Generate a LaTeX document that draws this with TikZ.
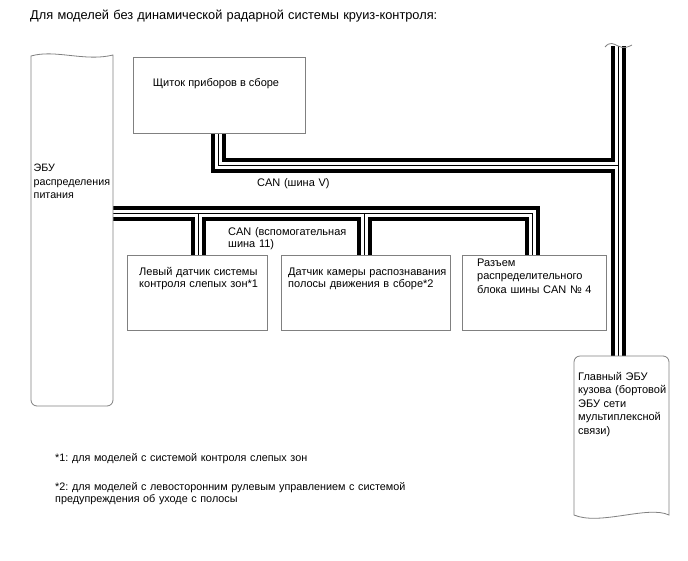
\documentclass[tikz,border=0pt]{standalone}
\usepackage{fontspec}
\setmainfont{Liberation Sans}
\definecolor{boxgray}{RGB}{128,128,128}
\begin{document}
\frenchspacing
\begin{tikzpicture}[x=1pt,y=-1pt,
  box/.style={draw=boxgray, line width=0.8pt, fill=white, inner sep=0pt, anchor=north west},
  shapeline/.style={draw=boxgray, line width=0.8pt, fill=white},
  txt/.style={font=\fontsize{11}{12}\selectfont, inner sep=0pt, anchor=base west, align=left, text width=200pt},
  busblack/.style={line width=15pt, black, line join=miter},
  buswhite/.style={line width=7pt, white, line join=miter},
  busthin/.style={line width=1pt, black, line join=miter}]
\useasboundingbox (0,0) rectangle (688,560);
% title
\node[txt, font=\fontsize{12.8}{14}\selectfont, text width=500pt] (title) at (30,19) {Для моделей без динамической радарной системы круиз-контроля:};
% bus connection points
\coordinate (clB) at (218,133);
\coordinate (jV) at (618,165);
\coordinate (topB) at (618,46);
\coordinate (bcmT) at (618,357);
\coordinate (pduR) at (113,213);
\coordinate (cn4T) at (532,255);
\coordinate (d1) at (198,213);
\coordinate (bsmT) at (198,255);
\coordinate (d2) at (364,213);
\coordinate (camT) at (364,255);
% buses
\foreach \st in {busblack,buswhite,busthin}{
  \draw[\st] (clB) |- (jV);
  \draw[\st] (topB) -- (bcmT);
  \draw[\st] (pduR) -| (cn4T);
  \draw[\st] (d1) -- (bsmT);
  \draw[\st] (d2) -- (camT);
}
% cut mark on top of main bus
\draw[boxgray, line width=0.8pt] (605,47) .. controls (610,41) and (614,44) .. (618,46) .. controls (624,49) and (628,47) .. (632,45);
% power distribution ECU
\path[shapeline] (31,56) .. controls (55,49) and (85,62) .. (113,55) -- (113,400) arc[start angle=0,end angle=90,radius=6] -- (37,406) arc[start angle=90,end angle=180,radius=6] -- cycle;
\node[txt, font=\fontsize{10.7}{12}\selectfont] (pdutxt) at (33.5,171.5) {ЭБУ\\[1.7pt]распределения\\[1.7pt]питания};
% main body ECU
\path[shapeline] (574,515) -- (574,362) arc[start angle=180,end angle=270,radius=6] -- (663,356) arc[start angle=270,end angle=360,radius=6] -- (669,515) .. controls (648,505) and (600,526) .. cycle;
\node[txt] (bcmtxt) at (578,380) {Главный ЭБУ\\[1.5pt]кузова (бортовой\\[1.5pt]ЭБУ сети\\[1.5pt]мультиплексной\\[1.5pt]связи)};
% combination meter
\node[box, minimum width=172pt, minimum height=76pt] (cluster) at (133,57) {};
\node[txt, anchor=base, text width=] (cltxt) at (216,86.5) {Щиток приборов в сборе};
% sensor boxes
\node[box, minimum width=140pt, minimum height=75pt] (bsm) at (127,255) {};
\node[txt] (bsmtxt) at (139,275) {Левый датчик системы\\контроля слепых зон*1};
\node[box, minimum width=169pt, minimum height=75pt] (cam) at (281,255) {};
\node[txt] (camtxt) at (288,275) {Датчик камеры распознавания\\полосы движения в сборе*2};
\node[box, minimum width=144pt, minimum height=75pt] (cn4) at (462,255) {};
\node[txt] (cn4txt) at (477,266) {Разъем\\[1.5pt]распределительного\\[1.5pt]блока шины CAN № 4};
% bus labels
\node[txt] (canv) at (257,186) {CAN (шина V)};
\node[txt] (canb) at (228,235) {CAN (вспомогательная\\шина 11)};
% footnotes
\node[txt, font=\fontsize{10.8}{12}\selectfont, text width=400pt] (fn1) at (55,461.5) {*1: для моделей с системой контроля слепых зон};
\node[txt, font=\fontsize{10.8}{12}\selectfont, text width=400pt] (fn2) at (55,490.5) {*2: для моделей с левосторонним рулевым управлением с системой\\предупреждения об уходе с полосы};
\end{tikzpicture}
\end{document}
